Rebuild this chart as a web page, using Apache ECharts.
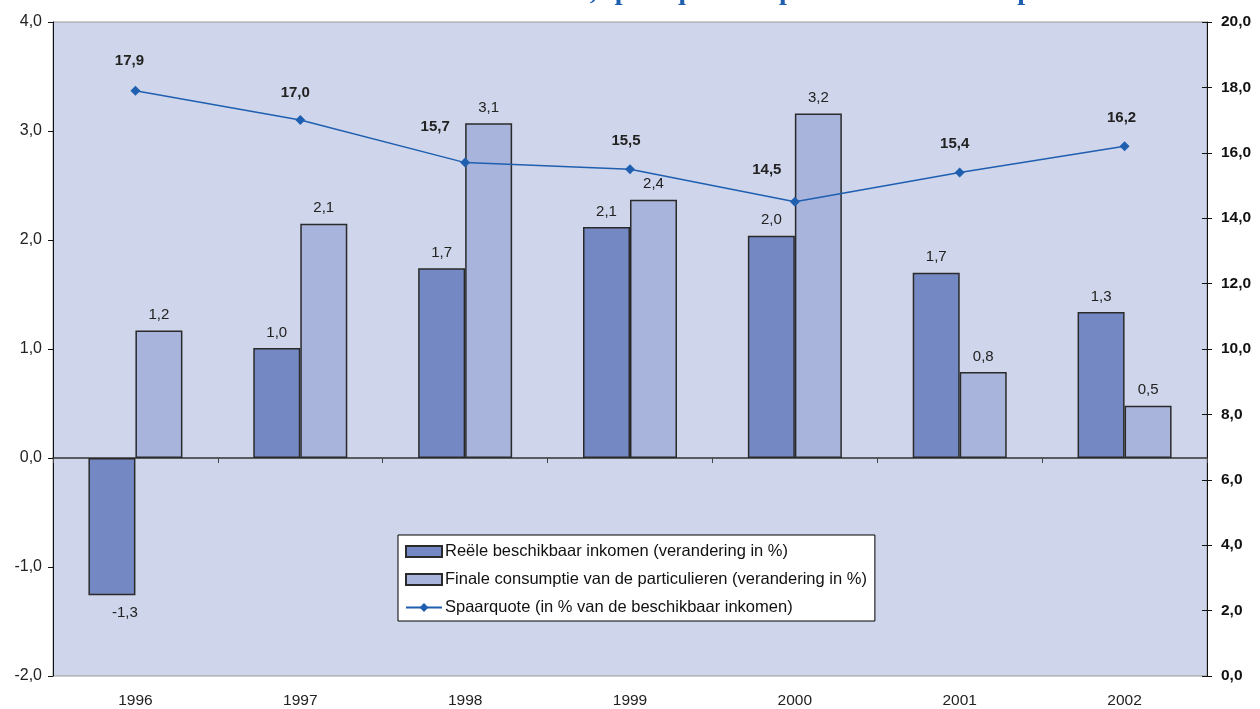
<!DOCTYPE html>
<html><head><meta charset="utf-8">
<script src="https://cdn.jsdelivr.net/npm/echarts@6/dist/echarts.min.js"></script>
<style>html,body{margin:0;padding:0;background:#fff}#c{width:1260px;height:709px}</style>
</head><body><div id="c"></div>
<script>
const titleLead = 'Grafiek 8:';
const titleText = 'Reëel beschikbaar inkomen, spaarquote en particuliere consumptie';
const years = ['1996','1997','1998','1999','2000','2001','2002'];
const inkomen = [-1.26, 1.01, 1.74, 2.12, 2.04, 1.70, 1.34];
const consumptie = [1.17, 2.15, 3.07, 2.37, 3.16, 0.79, 0.48];
const spaarquote = [17.9, 17.0, 15.7, 15.5, 14.5, 15.4, 16.2];
const names = ['Reële beschikbaar inkomen (verandering in %)', 'Finale consumptie van de particulieren (verandering in %)', 'Spaarquote (in % van de beschikbaar inkomen)'];

const fmt = v => v.toFixed(1).replace('.', ',');
const lineLabelDx = [-6, -5, -30, -4, -28, -5, -3];
const lineLabelDy = [-1, 1, -7, 0, -3, 0, 0];

const titleStyle = { fontFamily: 'Liberation Serif, serif', fontWeight: 'bold', fontSize: 28, color: '#1f5fb0' };
const chart = echarts.init(document.getElementById('c'));
chart.setOption({
  animation: false,
  backgroundColor: '#fff',
  textStyle: { fontFamily: 'Liberation Sans, Arial, sans-serif' },
  title: [
    { text: titleLead, left: 4, top: -27, textStyle: titleStyle },
    { text: titleText, left: 255, top: -27, textStyle: titleStyle }
  ],
  grid: { left: 53, right: 53, top: 22, bottom: 32, show: true, backgroundColor: '#cfd5ea', borderColor: '#999', borderWidth: 1 },
  legend: {
    orient: 'vertical', left: 398, top: 535,
    backgroundColor: '#fff', borderColor: '#000', borderWidth: 1,
    padding: [8, 8, 5, 7], itemGap: 11, itemWidth: 36, itemHeight: 11,
    textStyle: { fontSize: 16.5, color: '#111', padding: [0, 0, 0, -2] },
    data: [
      { name: names[0], icon: 'rect' },
      { name: names[1], icon: 'rect' },
      { name: names[2] }
    ]
  },
  xAxis: [
    { type: 'category', data: years, position: 'bottom',
      axisLine: { onZero: false, show: false }, axisTick: { show: false },
      axisLabel: { fontSize: 15.5, color: '#222', margin: 17 } },
    { type: 'category', data: years, position: 'bottom',
      axisLine: { onZero: true, lineStyle: { color: '#333', width: 1.5 } },
      axisTick: { show: true, length: 5, lineStyle: { color: '#444' } },
      axisLabel: { show: false } }
  ],
  yAxis: [
    { type: 'value', min: -2, max: 4, interval: 1, position: 'left',
      axisLine: { show: true, lineStyle: { color: '#111' } },
      axisTick: { show: true, length: 5, lineStyle: { color: '#111' } },
      splitLine: { show: false },
      axisLabel: { fontSize: 16, color: '#222', formatter: fmt, margin: 11 } },
    { type: 'value', min: 0, max: 20, interval: 2, position: 'right',
      axisLine: { show: true, lineStyle: { color: '#111' } },
      axisTick: { show: true, length: 5, lineStyle: { color: '#111' } },
      splitLine: { show: false },
      axisLabel: { fontSize: 15.5, fontWeight: 'bold', color: '#111', formatter: fmt, margin: 14 } },
    { type: 'value', min: 0, max: 20, interval: 2, position: 'right',
      axisLine: { show: false },
      axisTick: { show: true, inside: true, length: 5, lineStyle: { color: '#111' } },
      splitLine: { show: false }, axisLabel: { show: false } }
  ],
  series: [
    { name: names[0], type: 'bar', data: inkomen, xAxisIndex: 0, yAxisIndex: 0,
      barWidth: 47, barGap: '0%',
      itemStyle: { color: '#7489c4', borderColor: '#2a2a2a', borderWidth: 1.5 },
      label: { show: true, position: 'top', distance: 8, fontSize: 15, color: '#222',
        formatter: p => fmt(p.value) },
      labelLayout: p => p.dataIndex === 0 ? { y: p.rect.y + p.rect.height + 10 } : {} },
    { name: names[1], type: 'bar', data: consumptie, xAxisIndex: 0, yAxisIndex: 0,
      barWidth: 47, barGap: '0%',
      itemStyle: { color: '#a8b4dc', borderColor: '#2a2a2a', borderWidth: 1.5 },
      label: { show: true, position: 'top', distance: 8, fontSize: 15, color: '#222',
        formatter: p => fmt(p.value) } },
    { name: names[2], type: 'line', data: spaarquote, xAxisIndex: 0, yAxisIndex: 1,
      symbol: 'diamond', symbolSize: 10,
      lineStyle: { color: '#1f5fb0', width: 1.5 }, itemStyle: { color: '#1f5fb0' },
      label: { show: true, position: 'top', distance: 16, fontSize: 15, fontWeight: 'bold', color: '#222',
        formatter: p => fmt(p.value) },
      labelLayout: p => ({ dx: lineLabelDx[p.dataIndex], dy: lineLabelDy[p.dataIndex] }) }
  ]
});
</script></body></html>
